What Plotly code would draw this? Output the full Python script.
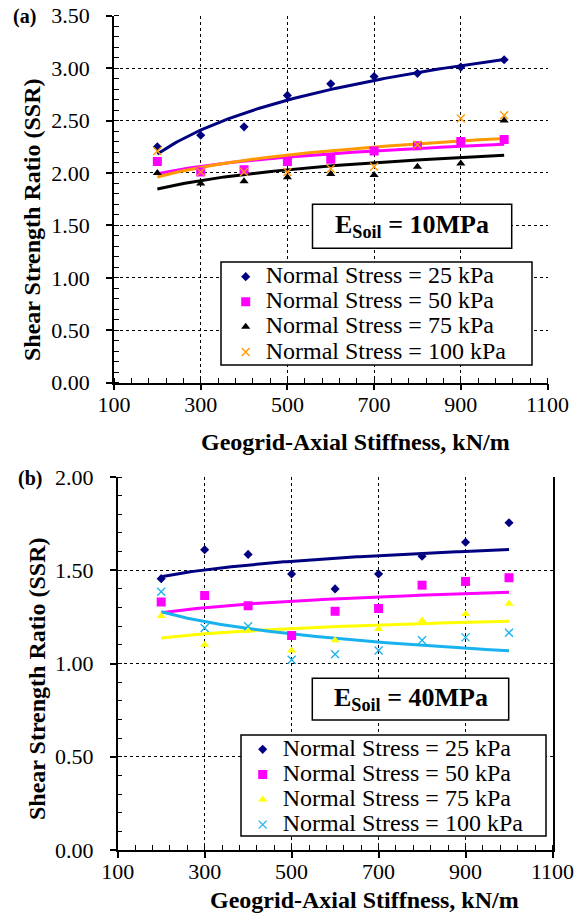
import numpy as np
import plotly.graph_objects as go

# ---------------- data ----------------
stiffness = [200, 300, 400, 500, 600, 700, 800, 900, 1000]
series_labels = ["Normal Stress = 25 kPa", "Normal Stress = 50 kPa",
                 "Normal Stress = 75 kPa", "Normal Stress = 100 kPa"]

# (a) E_soil = 10 MPa
ssr_a_25 = [2.25, 2.36, 2.44, 2.74, 2.85, 2.92, 2.95, 3.01, 3.08]
ssr_a_50 = [2.11, 2.01, 2.03, 2.11, 2.13, 2.21, 2.26, 2.30, 2.32]
ssr_a_75 = [2.00, 1.90, 1.92, 1.96, 1.99, 1.98, 2.06, 2.09, 2.50]
ssr_a_100 = [2.21, 2.01, 2.01, 2.01, 2.04, 2.06, 2.27, 2.52, 2.55]

# (b) E_soil = 40 MPa
ssr_b_25 = [1.455, 1.61, 1.585, 1.48, 1.40, 1.48, 1.575, 1.65, 1.755]
ssr_b_50 = [1.33, 1.365, 1.31, 1.15, 1.28, 1.295, 1.42, 1.44, 1.46]
ssr_b_75 = [1.255, 1.10, 1.175, 1.07, 1.125, 1.185, 1.23, 1.265, 1.32]
ssr_b_100 = [1.385, 1.19, 1.20, 1.02, 1.05, 1.07, 1.125, 1.14, 1.165]

x_ticks = [100, 300, 500, 700, 900, 1100]
y_ticks_a = [0.0, 0.5, 1.0, 1.5, 2.0, 2.5, 3.0, 3.5]
y_ticks_b = [0.0, 0.5, 1.0, 1.5, 2.0]

# ---------------- styles ----------------
W, H = 587, 918
SERIF = '"Liberation Serif", "Times New Roman", serif'
styles_a = [
    dict(color="#000080", symbol="diamond", size=7),
    dict(color="#FF00FF", symbol="square", size=9),
    dict(color="#000000", symbol="triangle-up", size=8),
    dict(color="#FF9900", symbol="x-thin-open", size=8),
]
styles_b = [
    dict(color="#000080", symbol="diamond", size=7),
    dict(color="#FF00FF", symbol="square", size=9),
    dict(color="#FFFF00", symbol="triangle-up", size=8),
    dict(color="#1AB2EE", symbol="x-thin-open", size=8),
]


def px_x(p):
    return p / W


def px_y(p):
    return 1 - p / H


def log_trend(x, y):
    x = np.asarray(x, float)
    y = np.asarray(y, float)
    a, b = np.polyfit(np.log(x), y, 1)
    xs = np.linspace(x.min(), x.max(), 120)
    return xs, a * np.log(xs) + b


fig = go.Figure()

panels = [
    ("x", "y", "legend", [ssr_a_25, ssr_a_50, ssr_a_75, ssr_a_100], styles_a),
    ("x2", "y2", "legend2", [ssr_b_25, ssr_b_50, ssr_b_75, ssr_b_100], styles_b),
]

for xa, ya, leg, data, styles in panels:
    # trend lines (logarithmic least-squares fits of each series)
    for vals, st in zip(data, styles):
        xs, ys = log_trend(stiffness, vals)
        fig.add_trace(go.Scatter(x=xs, y=ys, mode="lines", xaxis=xa, yaxis=ya,
                                 line=dict(color=st["color"], width=3),
                                 showlegend=False, hoverinfo="skip"))
    # markers
    for vals, st, name in zip(data, styles, series_labels):
        mk = dict(color=st["color"], symbol=st["symbol"], size=st["size"])
        if st["symbol"].startswith("x-thin"):
            mk["line"] = dict(color=st["color"], width=1.3)
        fig.add_trace(go.Scatter(x=stiffness, y=vals, mode="markers", xaxis=xa, yaxis=ya,
                                 marker=mk, legend=leg,
                                 name='<span style="font-size:24px">' + name + '</span>'))

tickfont = dict(family=SERIF, size=22, color="black")


def xaxis_cfg(domain, anchor):
    return dict(domain=domain, anchor=anchor, range=[100, 1100], tickvals=x_ticks,
                ticktext=[str(v) for v in x_ticks],
                showline=True, linecolor="black", linewidth=1.5,
                ticks="outside", ticklen=6, tickwidth=1.5, tickcolor="black",
                ticklabelstandoff=-5, tickfont=tickfont, automargin=False,
                showgrid=True, gridcolor="black", gridwidth=1, griddash="dot",
                minor=dict(ticks="inside", ticklen=5, tickwidth=1, tickcolor="black",
                           tick0=100, dtick=40, showgrid=False),
                zeroline=False, fixedrange=True)


def yaxis_cfg(domain, anchor, rng, vals, mirror=False):
    return dict(domain=domain, anchor=anchor, range=rng, tickvals=vals,
                ticktext=["%.2f" % v for v in vals],
                showline=True, linecolor="black", linewidth=1.5, mirror=mirror,
                ticks="outside", ticklen=6, tickwidth=1.5, tickcolor="black",
                ticklabelstandoff=12, tickfont=tickfont, automargin=False,
                showgrid=True, gridcolor="black", gridwidth=1, griddash="dot",
                minor=dict(ticks="inside", ticklen=5, tickwidth=1, tickcolor="black",
                           dtick=0.1, showgrid=False),
                zeroline=False, fixedrange=True)


legend_common = dict(font=dict(family=SERIF, size=17, color="black"),
                     bgcolor="rgba(0,0,0,0)", borderwidth=0,
                     xanchor="left", yanchor="top", tracegroupgap=0,
                     itemclick=False, itemdoubleclick=False)

fig.update_layout(
    width=W, height=H, autosize=False,
    margin=dict(l=0, r=0, t=0, b=0, pad=0, autoexpand=False),
    paper_bgcolor="white", plot_bgcolor="white",
    font=dict(family=SERIF, color="black"),
    xaxis=xaxis_cfg([px_x(114), px_x(547.5)], "y"),
    yaxis=yaxis_cfg([px_y(382.7), px_y(15.7)], "x", [0, 3.5], y_ticks_a),
    xaxis2=xaxis_cfg([px_x(117.7), px_x(552.5)], "y2"),
    yaxis2=yaxis_cfg([px_y(850), px_y(477)], "x2", [0, 2.0], y_ticks_b, mirror=True),
    legend=dict(x=px_x(225.7), y=px_y(259.1), **legend_common),
    legend2=dict(x=px_x(242.7), y=px_y(731.8), **legend_common),
    showlegend=True,
)

# boxes (legend frames and E_soil frames)
boxes = [(221, 262, 532, 365), (241, 735, 546, 836),
         (312.5, 204.3, 511.7, 248.3), (312.3, 678.3, 508.7, 720)]
for x0, y0, x1, y1 in boxes:
    fig.add_shape(type="rect", xref="paper", yref="paper",
                  x0=px_x(x0), x1=px_x(x1), y0=px_y(y1), y1=px_y(y0),
                  line=dict(color="black", width=1.5), fillcolor="white", layer="above")

annos = [
    dict(text="<b>E<sub>Soil</sub> = 10MPa</b>", x=px_x(412), y=px_y(226), size=26),
    dict(text="<b>E<sub>Soil</sub> = 40MPa</b>", x=px_x(410.5), y=px_y(699), size=26),
    dict(text="<b>(a)</b>", x=px_x(24), y=px_y(17), size=20),
    dict(text="<b>(b)</b>", x=px_x(30), y=px_y(479), size=20),
    dict(text="<b>Geogrid-Axial Stiffness, kN/m</b>", x=px_x(355), y=px_y(442), size=24),
    dict(text="<b>Geogrid-Axial Stiffness, kN/m</b>", x=px_x(364), y=px_y(900), size=24),
    dict(text="<b>Shear Strength Ratio (SSR)</b>", x=px_x(32), y=px_y(220), size=24, angle=-90),
    dict(text="<b>Shear Strength Ratio (SSR)</b>", x=px_x(37), y=px_y(679), size=24, angle=-90),
]
for a in annos:
    fig.add_annotation(text=a["text"], x=a["x"], y=a["y"], xref="paper", yref="paper",
                       xanchor="center", yanchor="middle", showarrow=False,
                       textangle=a.get("angle", 0),
                       font=dict(family=SERIF, size=a["size"], color="black"))

fig.write_html("out.html")
